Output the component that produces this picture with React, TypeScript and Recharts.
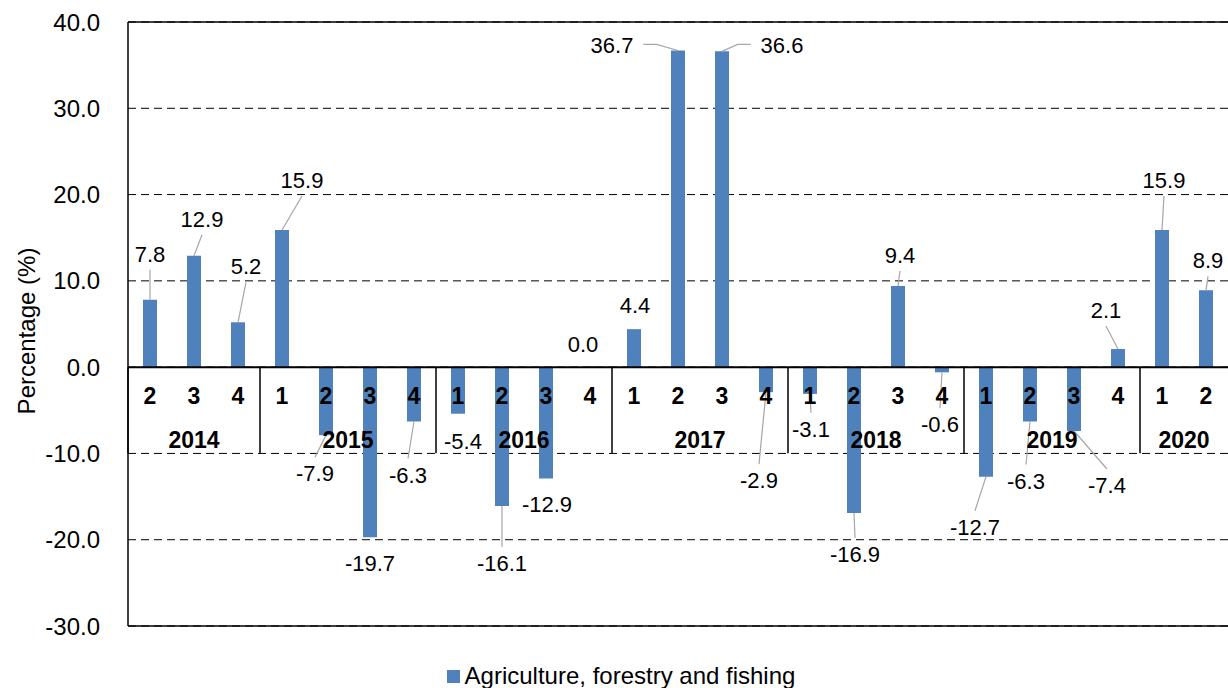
import React from 'react';
import { BarChart, Bar, XAxis, YAxis, CartesianGrid, ReferenceLine, LabelList, Legend } from 'recharts';

// Quarterly growth, agriculture/forestry/fishing
const years = ['2014', '2014', '2014', '2015', '2015', '2015', '2015', '2016', '2016', '2016', '2016', '2017', '2017', '2017', '2017', '2018', '2018', '2018', '2018', '2019', '2019', '2019', '2019', '2020', '2020'];
const quarters = ['2', '3', '4', '1', '2', '3', '4', '1', '2', '3', '4', '1', '2', '3', '4', '1', '2', '3', '4', '1', '2', '3', '4', '1', '2'];
const growth = [7.8, 12.9, 5.2, 15.9, -7.9, -19.7, -6.3, -5.4, -16.1, -12.9, 0.0, 4.4, 36.7, 36.6, -2.9, -3.1, -16.9, 9.4, -0.6, -12.7, -6.3, -7.4, 2.1, 15.9, 8.9];
const yTicks = [-30, -20, -10, 0, 10, 20, 30, 40];
const seriesName = 'Agriculture, forestry and fishing';

// label nudges [dx, dy] from the end of each bar (the source had hand-dragged labels)
const labelOffsets = [
  [0, -46], [8, -37], [8, -56], [20, -50], [-11, 38], [0, 26], [-6, 53], [5, 27], [0, 57], [1, 26],
  [-7, -23], [1, -24], [-66, -5], [60, -6], [-7, 88], [1, 35], [1, 41], [2, -31], [-2, 52], [-11, 50],
  [-4, 59], [33, 54], [-12, -39], [2, -50], [2, -30],
];

// idx travels with each row so labels stay matched even if a bar gets skipped
const data = growth.map((v, i) => ({ name: `${years[i]} Q${quarters[i]}`, value: v, idx: i }));

const W = 1228;
const H = 688;
const TOP = 22;
const PLOT_H = 604;
const PLOT_W = 1100;
const yMin = yTicks[0];
const yMax = yTicks[yTicks.length - 1];
const zeroY = TOP + (PLOT_H * yMax) / (yMax - yMin);
const band = PLOT_W / growth.length;
const FONT = '"Liberation Sans", Arial, sans-serif';
const BLUE = '#4F81BD';

const charW = (c: string) => (c === '.' ? 0.278 : c === '-' ? 0.333 : 0.556);
const textWidth = (s: string, size: number) => s.split('').reduce((a, c) => a + charW(c), 0) * size;

const CategoryTick = ({ x, index }: any) => {
  const yr = years[index];
  const isStart = index === 0 || years[index - 1] !== yr;
  let group = null;
  if (isStart) {
    let n = 0;
    while (index + n < years.length && years[index + n] === yr) n++;
    const left = x - band / 2;
    const mid = left + (n * band) / 2;
    group = (
      <g>
        <line x1={left} x2={left} y1={zeroY} y2={zeroY + 86} stroke="#000" strokeWidth={1.5} />
        <text x={mid} y={zeroY + 81} textAnchor="middle" fontWeight="bold" fontSize={23} fill="#000" fontFamily={FONT}>
          {yr}
        </text>
      </g>
    );
  }
  return (
    <g>
      <text x={x} y={zeroY + 37} textAnchor="middle" fontWeight="bold" fontSize={23} fill="#000" fontFamily={FONT}>
        {quarters[index]}
      </text>
      {group}
    </g>
  );
};

const DataLabel = (props: any) => {
  const { x, y, width, height, value } = props;
  const index = Number(value);
  const v = growth[index];
  const cx = x + width / 2;
  const yEnd = v > 0 ? Math.min(y, y + height) : v < 0 ? Math.max(y, y + height) : zeroY;
  const [dx, dy] = labelOffsets[index];
  const lx = cx + dx;
  const ly = yEnd + dy;
  const txt = v.toFixed(1);
  const w = textWidth(txt, 22);
  let leader = null;
  if (Math.abs(dy) < 15) {
    const s = Math.sign(dx);
    const ax = lx - s * (w / 2 + 10);
    const ex = ax - s * 13;
    leader = <path d={`M${ax},${ly - 1}L${ex},${ly - 1}L${cx},${yEnd}`} stroke="#A6A6A6" fill="none" strokeWidth={1.2} />;
  } else if (Math.abs(dy) >= 29) {
    const ay = ly + (dy < 0 ? 16 : -16);
    leader = <line x1={lx} y1={ay} x2={cx} y2={yEnd} stroke="#A6A6A6" strokeWidth={1.2} />;
  }
  return (
    <g>
      {leader}
      <text x={lx} y={ly + 8} textAnchor="middle" fontSize={22} fill="#000" fontFamily={FONT}>
        {txt}
      </text>
    </g>
  );
};

const AxisTitle = ({ viewBox }: any) => {
  const cx = 26;
  const cy = (viewBox ? viewBox.y + viewBox.height / 2 : TOP + PLOT_H / 2) + 7;
  return (
    <text x={cx} y={cy} transform={`rotate(-90 ${cx} ${cy})`} textAnchor="middle" dominantBaseline="central" fontSize={24} fill="#000" fontFamily={FONT}>
      Percentage (%)
    </text>
  );
};

const LegendBox = () => (
  <div style={{ display: 'flex', justifyContent: 'center', alignItems: 'center', fontFamily: FONT, fontSize: 24, color: '#000', height: 28, paddingLeft: 14 }}>
    <span style={{ display: 'inline-block', width: 13, height: 13, background: BLUE, marginRight: 5 }} />
    {seriesName}
  </div>
);

export default function App() {
  return (
    <div style={{ position: 'absolute', left: 0, top: 0, width: W, height: H, background: '#fff' }}>
      <BarChart width={W} height={H} data={data} margin={{ top: TOP, right: 0, left: 0, bottom: 61 }} style={{ fontFamily: FONT }}>
        <CartesianGrid horizontal vertical={false} stroke="#000" strokeDasharray="8 5" />
        <YAxis
          domain={[yMin, yMax]}
          ticks={yTicks}
          interval={0}
          width={128}
          tickFormatter={(v: number) => v.toFixed(1)}
          tick={{ fill: '#000', fontSize: 24, fontFamily: FONT }}
          tickLine={false}
          tickSize={6}
          tickMargin={22}
          axisLine={{ stroke: '#000', strokeWidth: 1.5 }}
          label={<AxisTitle />}
        />
        <ReferenceLine y={yMax} stroke="#000" strokeWidth={1.5} />
        <ReferenceLine y={yMin} stroke="#000" strokeWidth={1.5} />
        <Bar
          dataKey="value"
          name={seriesName}
          fill={BLUE}
          barSize={14}
          minPointSize={(v: number) => (v === 0 ? 0.5 : 0)}
          isAnimationActive={false}
        >
          <LabelList dataKey="idx" content={<DataLabel />} />
        </Bar>
        <ReferenceLine y={0} stroke="#000" strokeWidth={2} />
        <XAxis dataKey="name" height={1} interval={0} axisLine={false} tickLine={false} tick={<CategoryTick />} />
        <Legend verticalAlign="middle" align="center" layout="horizontal" wrapperStyle={{ top: 662, left: 0, width: W }} content={<LegendBox />} />
      </BarChart>
    </div>
  );
}
